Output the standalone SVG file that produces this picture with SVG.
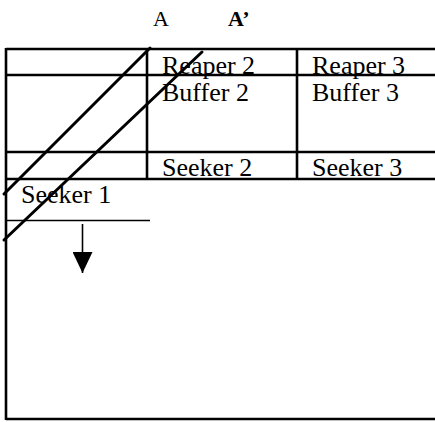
<svg xmlns="http://www.w3.org/2000/svg" width="435" height="422" viewBox="0 0 435 422">
  <style>
    .grid { stroke: #000; stroke-width: 2.6; fill: none; }
    .thin { stroke: #000; stroke-width: 1.6; fill: none; }
    .strike { stroke: #000; stroke-width: 3; fill: none; stroke-linecap: round; }
    .cell { font-family: "Liberation Serif", "Times New Roman", serif; font-size: 26px; fill: #000; }
    .head { font-family: "Liberation Serif", "Times New Roman", serif; font-size: 22px; fill: #000; }
  </style>
  <defs>
    <!-- filled triangle pointing along the line direction -->
    <marker id="arrowhead" markerWidth="21" markerHeight="20" refX="21" refY="10" orient="auto" markerUnits="userSpaceOnUse" viewBox="0 0 21 20">
      <path d="M0,0 L21,10 L0,20 Z" fill="#000"/>
    </marker>
  </defs>
  <rect width="435" height="422" fill="#fff"/>

  <!-- column headings -->
  <g id="heading-A">
    <text class="head" x="153" y="26">A</text>
  </g>
  <g id="heading-A-prime">
    <text class="head" x="228" y="26" font-weight="bold">A’</text>
  </g>

  <!-- table frame -->
  <g id="table">
    <line class="grid" x1="6" y1="49" x2="435" y2="49"/>
    <line class="grid" x1="6" y1="75" x2="435" y2="75"/>
    <line class="grid" x1="6" y1="152" x2="435" y2="152"/>
    <line class="grid" x1="6" y1="179" x2="435" y2="179"/>
    <line class="grid" x1="6" y1="419" x2="435" y2="419"/>
    <line class="grid" x1="6" y1="48" x2="6" y2="420"/>
    <line class="grid" x1="147" y1="49" x2="147" y2="179"/>
    <line class="grid" x1="297" y1="49" x2="297" y2="179"/>
  </g>

  <g id="reaper-2"><text class="cell" x="162" y="74">Reaper 2</text></g>
  <g id="reaper-3"><text class="cell" x="312" y="74">Reaper 3</text></g>
  <g id="buffer-2"><text class="cell" x="162" y="101">Buffer 2</text></g>
  <g id="buffer-3"><text class="cell" x="312" y="101">Buffer 3</text></g>
  <g id="seeker-2"><text class="cell" x="162" y="176">Seeker 2</text></g>
  <g id="seeker-3"><text class="cell" x="312" y="176">Seeker 3</text></g>
  <g id="seeker-1">
    <text class="cell" x="21" y="203">Seeker 1</text>
    <line class="thin" x1="6" y1="220.5" x2="150" y2="220.5"/>
  </g>

  <!-- strike-through diagonals -->
  <g id="strikes">
    <line class="strike" x1="150" y1="48" x2="4" y2="194"/>
    <line class="strike" x1="202" y1="52" x2="4" y2="240"/>
  </g>

  <g id="connectors">
    <line class="thin" x1="82.5" y1="224" x2="82.5" y2="273" marker-end="url(#arrowhead)"/>
  </g>
</svg>
